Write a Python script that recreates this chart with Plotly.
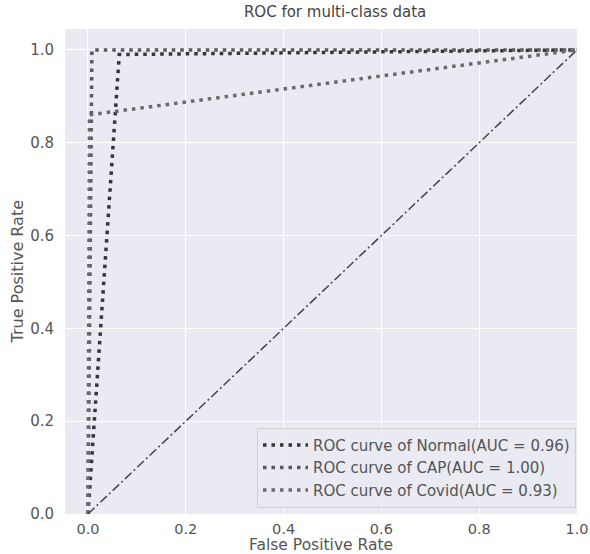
import plotly.graph_objects as go

normal_fpr = [0.0, 0.064, 1.0]
normal_tpr = [0.0, 0.99, 1.0]
cap_fpr = [0.0, 0.008, 1.0]
cap_tpr = [0.0, 1.0, 1.0]
covid_fpr = [0.0, 0.003, 1.0]
covid_tpr = [0.0, 0.86, 1.0]
diag = [0.0, 1.0]
ticks = [0, 0.2, 0.4, 0.6, 0.8, 1.0]
tick_text = ["0.0", "0.2", "0.4", "0.6", "0.8", "1.0"]

names = ["ROC curve of Normal(AUC = 0.96)", "ROC curve of CAP(AUC = 1.00)", "ROC curve of Covid(AUC = 0.93)"]
colors = ["#363636", "#5a5a5a", "#6a6a6a"]

fig = go.Figure()
for fx, ty, nm, c in zip([normal_fpr, cap_fpr, covid_fpr], [normal_tpr, cap_tpr, covid_tpr], names, colors):
    fig.add_trace(go.Scatter(x=fx, y=ty, mode="lines", name=nm,
                             line=dict(color=c, width=3.5, dash="3.5px,5px")))
fig.add_trace(go.Scatter(x=diag, y=diag, mode="lines", showlegend=False,
                         line=dict(color="#444444", width=1.5, dash="9px,3px,2px,3px")))

fig.update_layout(
    width=590, height=554,
    margin=dict(l=65, r=13, t=29, b=40, autoexpand=False),
    paper_bgcolor="white", plot_bgcolor="#EAEAF2",
    font=dict(family="DejaVu Sans", color="#555555", size=15),
    title=dict(text="ROC for multi-class data", x=0.568, xanchor="center", y=1 - 12 / 554, yanchor="middle",
               font=dict(size=15, color="#444444")),
    legend=dict(x=0.998, y=0.013, xanchor="right", yanchor="bottom",
                bgcolor="rgba(234,234,242,0.9)", bordercolor="#d0d0d0", borderwidth=1,
                font=dict(size=15, color="#555555"), itemwidth=45, tracegroupgap=0),
    xaxis=dict(range=[-0.047, 1.0], tickvals=ticks, ticktext=tick_text,
               gridcolor="white", gridwidth=1, zeroline=False, showline=False,
               automargin=False, ticks="", ticklabelstandoff=4, tickfont=dict(size=14.5)),
    yaxis=dict(range=[0.0, 1.045], tickvals=ticks, ticktext=tick_text,
               gridcolor="white", gridwidth=1, zeroline=False, showline=False,
               automargin=False, ticks="", ticklabelstandoff=10),
    annotations=[
        dict(text="False Positive Rate", xref="paper", yref="paper", x=0.5, y=0,
             xanchor="center", yanchor="middle", yshift=-31, showarrow=False, borderpad=0,
             font=dict(size=15.5, color="#555555")),
        dict(text="True Positive Rate", xref="paper", yref="paper", x=0, y=0.5,
             xanchor="center", yanchor="middle", xshift=-48, textangle=-90, showarrow=False,
             font=dict(size=16, color="#555555")),
    ],
)
fig.write_html("out.html", config={"displayModeBar": False},
               post_script="document.body.style.margin='0';")
